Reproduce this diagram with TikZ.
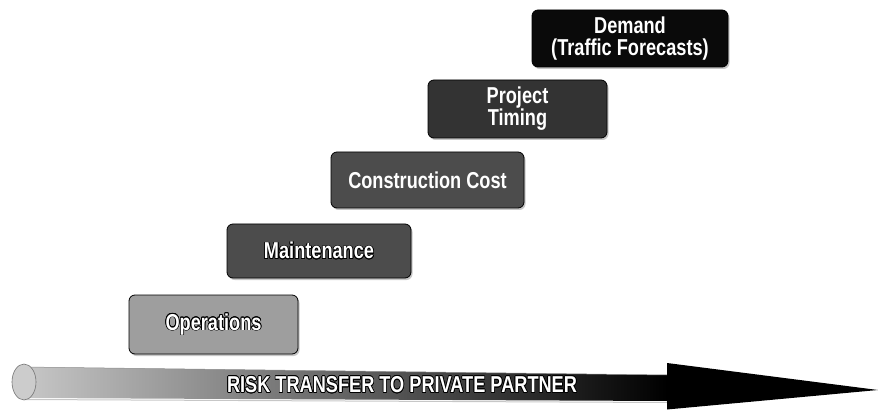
\documentclass[tikz,border=0pt]{standalone}
\usepackage{fontspec}
\setmainfont{Liberation Sans}[FakeStretch=0.79]
\usepackage{contour}
\contourlength{0.7pt}
\usetikzlibrary{shadows}

% fills of the risk steps, lightest at the bottom
\definecolor{opsfill}{gray}{0.62}
\definecolor{maintfill}{gray}{0.30}
\definecolor{constfill}{gray}{0.30}
\definecolor{timingfill}{gray}{0.20}
\definecolor{demandfill}{gray}{0.04}
% transfer arrow
\definecolor{shaftlight}{gray}{0.78}
\definecolor{shaftmid}{gray}{0.34}
\definecolor{capgray}{gray}{0.80}
\definecolor{shadowgray}{gray}{0.78}

\begin{document}
\begin{tikzpicture}[x=1pt,y=1pt,
  stepbox/.style={draw=black, line width=0.8pt, rounded corners=6pt,
    inner sep=0pt, text=white, align=center,
    font=\fontsize{23}{22}\selectfont\bfseries,
    drop shadow={shadow xshift=1.5pt, shadow yshift=-2pt,
      fill=shadowgray, opacity=1}},
  risklabel/.style={text=white, inner sep=0pt,
    font=\fontsize{23}{23}\selectfont\bfseries}]
\useasboundingbox (0,0) rectangle (878,410);

% ---- risk steps ----
\node[stepbox, fill=opsfill, minimum width=169pt, minimum height=59pt]
  (ops) at (213.5,85.5) {\contour{black}{Operations}};
\node[stepbox, fill=maintfill, minimum width=184pt, minimum height=54pt]
  (maint) at (319,159) {\contour{black}{Maintenance}};
\node[stepbox, fill=constfill, minimum width=193pt, minimum height=56pt]
  (const) at (427.5,230) {Construction Cost};
\node[stepbox, fill=timingfill, minimum width=179pt, minimum height=58pt]
  (timing) at (517.5,301) {Project\\Timing};
\node[stepbox, fill=demandfill, minimum width=196pt, minimum height=57pt]
  (demand) at (630,371.5) {Demand\\(Traffic Forecasts)};

% ---- risk transfer arrow ----
\coordinate (tailTop) at (24,43);
\coordinate (tailBot) at (24,12);
\coordinate (neckTop) at (667,35);
\coordinate (neckBot) at (667,9);
\coordinate (headTop) at (667,47);
\coordinate (headBot) at (667,0.5);
\coordinate (tip) at (878,20);

\draw[shadowgray, line width=1pt] (24,10.5) -- (667,7.5);
\shade[left color=shaftlight, middle color=shaftmid, right color=black]
  (tailTop) -- (neckTop) -- (neckBot) -- (tailBot) -- cycle;
\draw[black!45, line width=0.5pt] (tailTop) -- (neckTop);
\fill[black] (headTop) -- (tip) -- (headBot) -- cycle;
\draw[fill=capgray, draw=black!55, line width=0.6pt]
  (24,28) ellipse [x radius=12, y radius=18];

\node[risklabel] (risk) at (402,25)
  {\contour{black}{RISK TRANSFER TO PRIVATE PARTNER}};
\end{tikzpicture}
\end{document}
